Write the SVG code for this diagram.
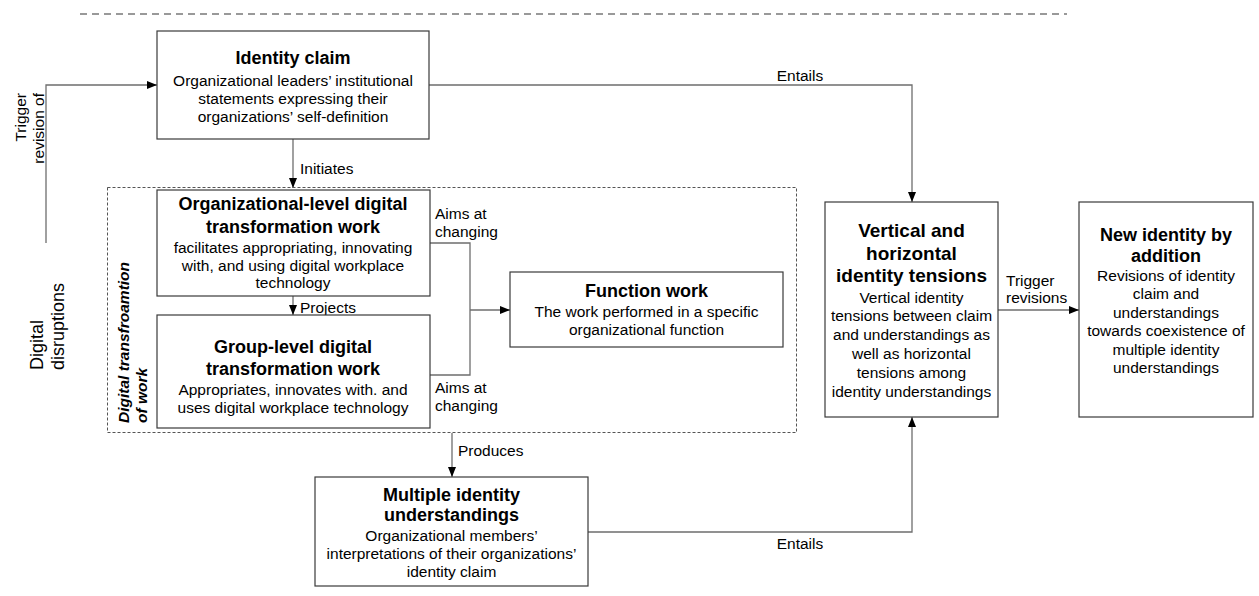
<svg xmlns="http://www.w3.org/2000/svg" width="1259" height="596" viewBox="0 0 1259 596">
  <defs>
    <marker id="arrow" markerUnits="userSpaceOnUse" markerWidth="10" markerHeight="8" refX="10" refY="4" orient="auto">
      <path d="M0,0 L10,4 L0,8 z" fill="#000"/>
    </marker>
    <style>
      text { font-family: "Liberation Sans", Arial, sans-serif; fill: #000; }
      .box { fill: #fff; stroke: #3a3a3a; stroke-width: 1.2; }
      .frame { fill: none; stroke: #555; stroke-width: 1; stroke-dasharray: 3 2; }
      .rule { fill: none; stroke: #999; stroke-width: 2; stroke-dasharray: 7 5; }
      .conn { fill: none; stroke: #6e6e6e; stroke-width: 1.3; }
      .title { font-size: 18px; font-weight: bold; text-anchor: middle; }
      .title-lg { font-size: 19px; font-weight: bold; text-anchor: middle; }
      .body { font-size: 15.5px; text-anchor: middle; }
      .label { font-size: 15.5px; }
      .side { font-size: 18px; }
      .frame-label { font-size: 15.5px; font-weight: bold; font-style: italic; }
    </style>
  </defs>

  <!-- horizontal rule along the top -->
  <line class="rule" x1="80" y1="14" x2="1067" y2="14"/>

  <!-- dashed frame around the transformation work -->
  <g id="digital-transformation-frame">
    <rect class="frame" x="107.5" y="187.5" width="689" height="245"/>
    <text class="frame-label" transform="translate(129,423) rotate(-90)">Digital transfroamtion</text>
    <text class="frame-label" transform="translate(147,423) rotate(-90)">of work</text>
  </g>

  <!-- connectors -->
  <g id="connectors">
    <path class="conn" d="M46,243 V85 H157" marker-end="url(#arrow)"/>
    <path class="conn" d="M293,139 V188" marker-end="url(#arrow)"/>
    <path class="conn" d="M293,296 V315" marker-end="url(#arrow)"/>
    <path class="conn" d="M430,243 H470 V375 H430"/>
    <path class="conn" d="M470,310 H510" marker-end="url(#arrow)"/>
    <path class="conn" d="M452,433 V477" marker-end="url(#arrow)"/>
    <path class="conn" d="M429,85 H912 V202" marker-end="url(#arrow)"/>
    <path class="conn" d="M588,532 H912 V417" marker-end="url(#arrow)"/>
    <path class="conn" d="M998,310 H1079" marker-end="url(#arrow)"/>

    <text class="label" transform="translate(26,93) rotate(-90)" text-anchor="end">Trigger</text>
    <text class="label" transform="translate(44,93) rotate(-90)" text-anchor="end">revision of</text>
    <text class="label" x="300" y="174">Initiates</text>
    <text class="label" x="300" y="313">Projects</text>
    <text class="label" x="435" y="219">Aims at</text>
    <text class="label" x="435" y="237">changing</text>
    <text class="label" x="435" y="393">Aims at</text>
    <text class="label" x="435" y="411">changing</text>
    <text class="label" x="458" y="456">Produces</text>
    <text class="label" x="800" y="81" text-anchor="middle">Entails</text>
    <text class="label" x="800" y="549" text-anchor="middle">Entails</text>
    <text class="label" x="1006" y="286">Trigger</text>
    <text class="label" x="1006" y="303">revisions</text>
  </g>

  <g id="digital-disruptions">
    <text class="side" transform="translate(43,370) rotate(-90)">Digital</text>
    <text class="side" transform="translate(64,370) rotate(-90)">disruptions</text>
  </g>

  <g id="identity-claim">
    <rect class="box" x="157" y="31" width="272" height="108"/>
    <text class="title" x="293" y="64">Identity claim</text>
    <text class="body" x="293" y="86">Organizational leaders’ institutional</text>
    <text class="body" x="293" y="104">statements expressing their</text>
    <text class="body" x="293" y="122">organizations’ self-definition</text>
  </g>

  <g id="org-level-work">
    <rect class="box" x="157" y="190" width="273" height="106"/>
    <text class="title" x="293" y="210">Organizational-level digital</text>
    <text class="title" x="293" y="233">transformation work</text>
    <text class="body" x="293" y="253">facilitates appropriating, innovating</text>
    <text class="body" x="293" y="270.5">with, and using digital workplace</text>
    <text class="body" x="293" y="288">technology</text>
  </g>

  <g id="group-level-work">
    <rect class="box" x="157" y="315" width="273" height="113"/>
    <text class="title" x="293" y="353">Group-level digital</text>
    <text class="title" x="293" y="375">transformation work</text>
    <text class="body" x="293" y="395">Appropriates, innovates with. and</text>
    <text class="body" x="293" y="412.5">uses digital workplace technology</text>
  </g>

  <g id="function-work">
    <rect class="box" x="510" y="272" width="273" height="75"/>
    <text class="title" x="646.5" y="297">Function work</text>
    <text class="body" x="646.5" y="317">The work performed in a specific</text>
    <text class="body" x="646.5" y="334.5">organizational function</text>
  </g>

  <g id="identity-tensions">
    <rect class="box" x="825" y="202" width="173" height="215"/>
    <text class="title-lg" x="911.5" y="237">Vertical and</text>
    <text class="title-lg" x="911.5" y="259.5">horizontal</text>
    <text class="title-lg" x="911.5" y="282">identity tensions</text>
    <text class="body" x="911.5" y="302.5">Vertical identity</text>
    <text class="body" x="911.5" y="321.3">tensions between claim</text>
    <text class="body" x="911.5" y="340.1">and understandings as</text>
    <text class="body" x="911.5" y="358.9">well as horizontal</text>
    <text class="body" x="911.5" y="377.7">tensions among</text>
    <text class="body" x="911.5" y="396.5">identity understandings</text>
  </g>

  <g id="new-identity">
    <rect class="box" x="1079" y="202" width="174" height="215"/>
    <text class="title" x="1166" y="241">New identity by</text>
    <text class="title" x="1166" y="262">addition</text>
    <text class="body" x="1166" y="281">Revisions of identity</text>
    <text class="body" x="1166" y="299.4">claim and</text>
    <text class="body" x="1166" y="317.8">understandings</text>
    <text class="body" x="1166" y="336.2">towards coexistence of</text>
    <text class="body" x="1166" y="354.6">multiple identity</text>
    <text class="body" x="1166" y="373">understandings</text>
  </g>

  <g id="multiple-understandings">
    <rect class="box" x="315" y="477" width="273" height="109"/>
    <text class="title" x="451.5" y="501">Multiple identity</text>
    <text class="title" x="451.5" y="521">understandings</text>
    <text class="body" x="451.5" y="540.5">Organizational members’</text>
    <text class="body" x="451.5" y="558.5">interpretations of their organizations’</text>
    <text class="body" x="451.5" y="577">identity claim</text>
  </g>
</svg>
